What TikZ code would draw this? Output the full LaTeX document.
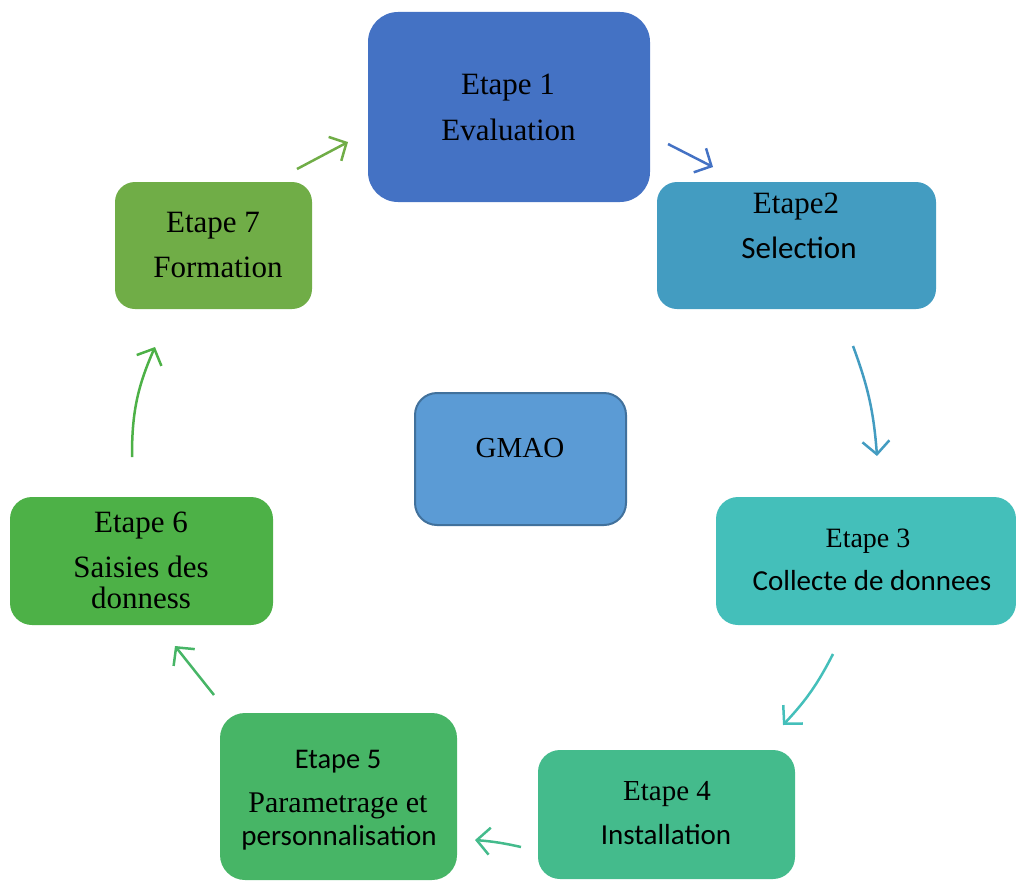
\documentclass[tikz,border=0pt]{standalone}
\usepackage{fontspec}
\setmainfont{Liberation Serif}
\newfontfamily\calib{Carlito}
\usetikzlibrary{arrows.meta}
\definecolor{cA}{HTML}{4472C4}
\definecolor{cB}{HTML}{439CC1}
\definecolor{cC}{HTML}{44BFBA}
\definecolor{cD}{HTML}{44BB8C}
\definecolor{cE}{HTML}{47B566}
\definecolor{cF}{HTML}{4DB147}
\definecolor{cG}{HTML}{70AD47}
\definecolor{cGM}{HTML}{5B9BD5}
\definecolor{cGMb}{HTML}{41719C}
\tikzset{
  stepbox/.style={rectangle, draw=none, inner sep=0pt},
  lbl/.style={anchor=base, inner sep=0pt, text=black},
  ser/.style={font=\fontsize{#1}{#1}\selectfont},
  san/.style={font=\calib\fontsize{#1}{#1}\selectfont},
  conn/.style={line width=2.5pt, -{Straight Barb[length=13pt,width=27pt,line width=2.5pt]}}
}
\begin{document}
\begin{tikzpicture}[x=1pt,y=1pt]
\useasboundingbox (0,0) rectangle (1016,-880);
% boxes
\path[fill=cA, rounded corners=30pt] (368,-12) rectangle (650,-202);
\node[stepbox, minimum width=282pt, minimum height=190pt] (b1) at (509,-107) {};
\path[fill=cB, rounded corners=20pt] (657,-182) rectangle (936,-309);
\node[stepbox, minimum width=279pt, minimum height=127pt] (b2) at (796.5,-245.5) {};
\path[fill=cC, rounded corners=22pt] (716,-497) rectangle (1016,-625);
\node[stepbox, minimum width=300pt, minimum height=128pt] (b3) at (866,-561) {};
\path[fill=cD, rounded corners=22pt] (538,-750) rectangle (795,-879);
\node[stepbox, minimum width=257pt, minimum height=129pt] (b4) at (666.5,-814.5) {};
\path[fill=cE, rounded corners=25pt] (220,-713) rectangle (457,-880);
\node[stepbox, minimum width=237pt, minimum height=167pt] (b5) at (338.5,-796.5) {};
\path[fill=cF, rounded corners=22pt] (10,-497) rectangle (273,-625);
\node[stepbox, minimum width=263pt, minimum height=128pt] (b6) at (141.5,-561) {};
\path[fill=cG, rounded corners=20pt] (115,-182) rectangle (312,-309);
\node[stepbox, minimum width=197pt, minimum height=127pt] (b7) at (213.5,-245.5) {};
\path[fill=cGM, draw=cGMb, line width=2pt, rounded corners=22pt] (415,-393) rectangle (626,-525);
\node[stepbox, minimum width=211pt, minimum height=132pt] (gm) at (520.5,-459) {};
% labels
\node[lbl, ser=31] (t1a) at (508,-95) {Etape 1};
\node[lbl, ser=31] (t1b) at (508.5,-140) {Evaluation};
\node[lbl, ser=31] (t2a) at (796,-213) {Etape2};
\node[lbl, san=31] (t2b) at (799,-258) {Selection};
\node[lbl, ser=28] (t3a) at (868,-547) {Etape 3};
\node[lbl, san=29] (t3b) at (872,-590) {Collecte de donnees};
\node[lbl, ser=29] (t4a) at (667,-800) {Etape 4};
\node[lbl, san=29] (t4b) at (666,-844) {Installation};
\node[lbl, san=28.5] (t5a) at (338,-768) {Etape 5};
\node[lbl, ser=30] (t5b) at (338,-812) {Parametrage et};
\node[lbl, san=29] (t5c) at (339,-845) {personnalisation};
\node[lbl, ser=31] (t6a) at (141,-532) {Etape 6};
\node[lbl, ser=31] (t6b) at (141,-577) {Saisies des};
\node[lbl, ser=31] (t6c) at (141,-608) {donness};
\node[lbl, ser=31] (t7a) at (213,-232) {Etape 7};
\node[lbl, ser=31] (t7b) at (218,-277) {Formation};
\node[lbl, ser=29] (tgm) at (520,-457) {GMAO};
% connector ends
\coordinate (a1s) at (668,-144); \coordinate (a1e) at (713,-167);
\coordinate (a2s) at (853,-346); \coordinate (a2e) at (877,-456);
\coordinate (a3s) at (833,-654); \coordinate (a3e) at (783,-725);
\coordinate (a4s) at (521,-847); \coordinate (a4e) at (475,-840);
\coordinate (a5s) at (214,-695); \coordinate (a5e) at (175,-646);
\coordinate (a6s) at (132,-457); \coordinate (a6e) at (155,-347);
\coordinate (a7s) at (297,-169); \coordinate (a7e) at (348,-142);
\draw[conn, draw=cA] (a1s) -- (a1e);
\draw[conn, draw=cB] (a2s) to[bend left=8] (a2e);
\draw[conn, draw=cC] (a3s) to[bend left=8] (a3e);
\draw[conn, draw=cD] (a4s) to[bend right=4] (a4e);
\draw[conn, draw=cE] (a5s) -- (a5e);
\draw[conn, draw=cF] (a6s) to[bend left=12] (a6e);
\draw[conn, draw=cG] (a7s) -- (a7e);
\end{tikzpicture}
\end{document}
